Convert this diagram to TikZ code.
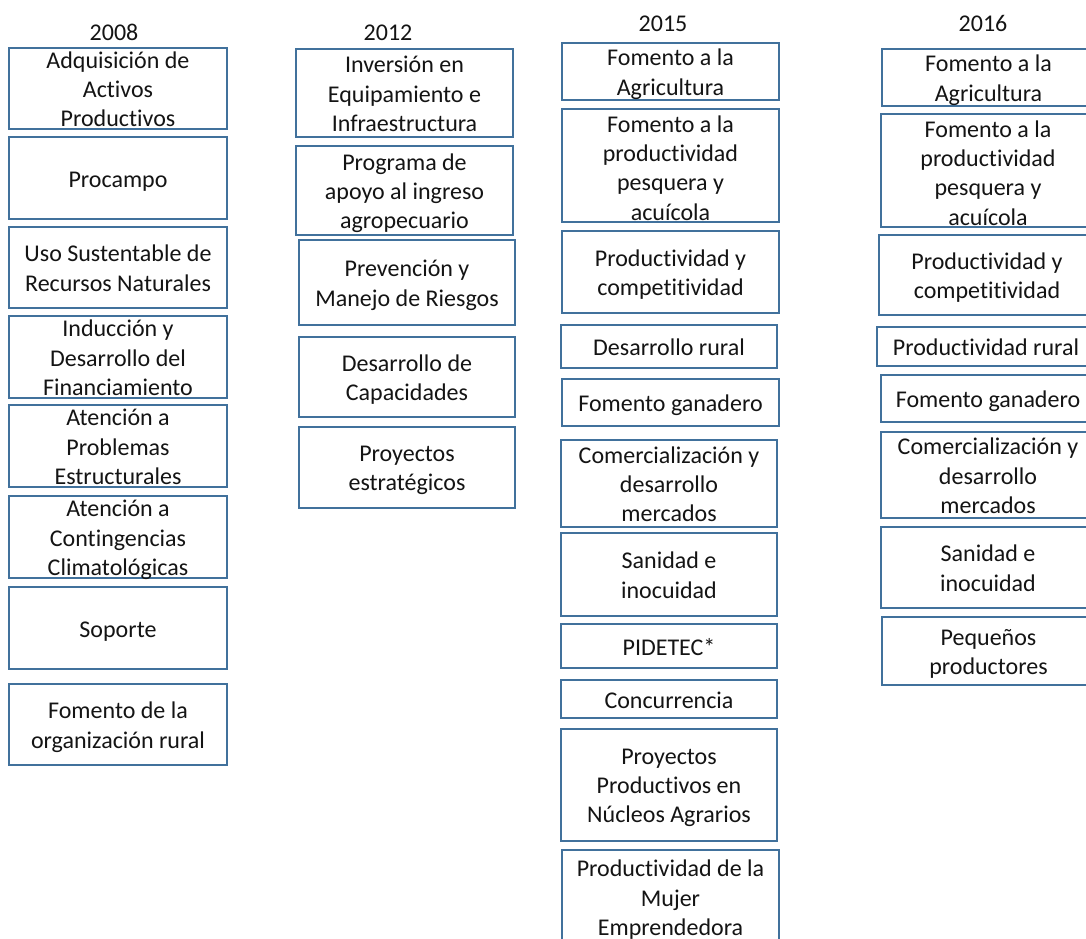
\documentclass[tikz,border=0pt]{standalone}
\usepackage{fontspec}
\setmainfont{Carlito}[Ligatures=CommonOff]
\definecolor{boxblue}{RGB}{65,113,156}
% line strut: ascent 22.8pt, descent 6.5pt (one 29.3pt line)
\newcommand{\lnstrut}{\rule[-6.5pt]{0pt}{29.3pt}}
\tikzset{
  prog/.style={draw=boxblue, line width=1.6pt, fill=white, inner sep=0pt},
  txt/.style={font=\fontsize{24}{29.3}\selectfont, align=center, inner sep=0pt, text=black!92,
    execute at begin node=\lnstrut, execute at end node=\lnstrut},
}
% \prbox[text shift]{name}{x1}{y1}{x2}{y2}{text}: framed programme box with centred text
\newcommand{\prbox}[7][-4]{%
  \node[prog, minimum width={#5-#3}, minimum height={#6-#4}] (#2) at ({(#3+#5)/2},{(#4+#6)/2}) {};
  \node[txt, yshift=#1pt] (#2-t) at (#2.center) {#7};
}
\begin{document}
\begin{tikzpicture}[x=1pt,y=-1pt]
\useasboundingbox (0,0) rectangle (1086,938);
\clip (0,0) rectangle (1086,938);

% year headings
\node[txt] (y2008) at (114,32) {2008};
\node[txt] (y2012) at (388,32) {2012};
\node[txt] (y2015) at (663,23) {2015};
\node[txt] (y2016) at (983,23) {2016};

% 2008
\prbox{a1}{9}{48}{227}{129}{Adquisición de\\Activos\\Productivos}
\prbox[-1.5]{a2}{9}{137}{227}{219}{Procampo}
\prbox{a3}{9}{227}{227}{308}{Uso Sustentable de\\Recursos Naturales}
\prbox{a4}{9}{316}{227}{398}{Inducción y\\Desarrollo del\\Financiamiento}
\prbox{a5}{9}{405}{227}{487}{Atención a\\Problemas\\Estructurales}
\prbox{a6}{9}{496}{227}{578}{Atención a\\Contingencias\\Climatológicas}
\prbox[-1]{a7}{9}{587}{227}{669}{Soporte}
\prbox{a8}{9}{684}{227}{765}{Fomento de la\\organización rural}

% 2012
\prbox{b1}{296}{49}{513}{137}{Inversión en\\Equipamiento e\\Infraestructura}
\prbox{b2}{296}{146}{513}{235}{Programa de\\apoyo al ingreso\\agropecuario}
\prbox{b3}{299}{240}{515}{325}{Prevención y\\Manejo de Riesgos}
\prbox{b4}{299}{337}{515}{417}{Desarrollo de\\Capacidades}
\prbox{b5}{299}{427}{515}{508}{Proyectos\\estratégicos}

% 2015
\prbox{c1}{562}{43}{779}{100}{Fomento a la\\Agricultura}
\prbox[-5.5]{c2}{562}{109}{779}{222}{Fomento a la\\productividad\\pesquera y\\acuícola}
\prbox{c3}{562}{231}{779}{313}{Productividad y\\competitividad}
\prbox[-1]{c4}{561}{325}{777}{368}{Desarrollo rural}
\prbox[-1]{c5}{562}{379}{779}{426}{Fomento ganadero}
\prbox{c6}{561}{440}{777}{527}{Comercialización y\\desarrollo\\mercados}
\prbox{c7}{561}{533}{777}{616}{Sanidad e\\inocuidad}
\prbox[-1]{c8}{561}{624}{777}{668}{PIDETEC*}
\prbox[-1]{c9}{561}{680}{777}{718}{Concurrencia}
\prbox{c10}{561}{729}{777}{841}{Proyectos\\Productivos en\\Núcleos Agrarios}
\prbox{c11}{562}{850}{779}{944}{Productividad de la\\Mujer\\Emprendedora}

% 2016
\prbox{d1}{882}{49}{1095}{106}{Fomento a la\\Agricultura}
\prbox[-5.5]{d2}{881}{114}{1095}{227}{Fomento a la\\productividad\\pesquera y\\acuícola}
\prbox{d3}{879}{235}{1095}{315}{Productividad y\\competitividad}
\prbox[-1]{d4}{877}{327}{1095}{366}{Productividad rural}
\prbox[-1]{d5}{881}{375}{1095}{422}{Fomento ganadero}
\prbox{d6}{881}{432}{1095}{518}{Comercialización y\\desarrollo\\mercados}
\prbox{d7}{881}{527}{1095}{608}{Sanidad e\\inocuidad}
\prbox{d8}{882}{617}{1095}{685}{Pequeños\\productores}
\end{tikzpicture}
\end{document}
